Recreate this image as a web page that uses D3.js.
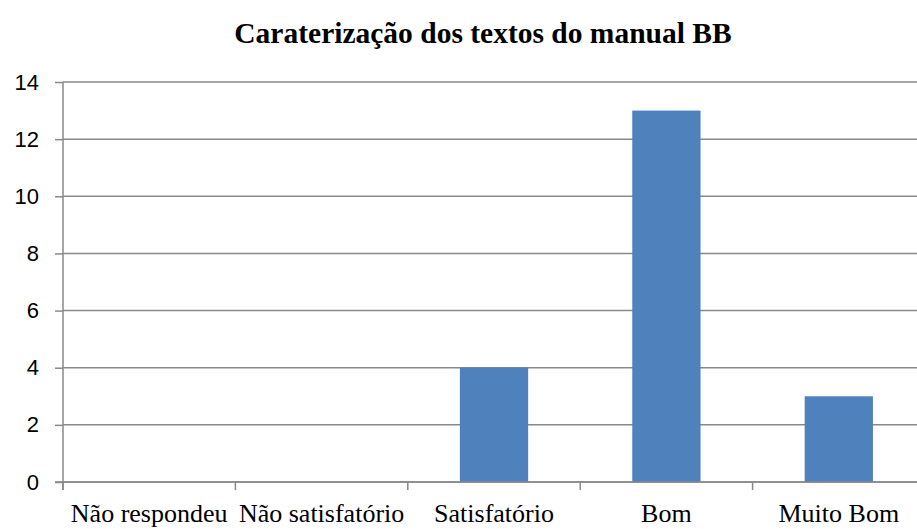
<!DOCTYPE html>
<html>
<head>
<meta charset="utf-8">
<script src="https://cdn.jsdelivr.net/npm/d3@7"></script>
<style>
  html, body { margin: 0; padding: 0; background: #fff; }
  svg { display: block; }
</style>
</head>
<body>
<svg id="chart" width="917" height="529"></svg>
<script>
// Categories and counts
const categories = ["Não respondeu", "Não satisfatório", "Satisfatório", "Bom", "Muito Bom"];
const values = [0, 0, 4, 13, 3];
const yTicks = [0, 2, 4, 6, 8, 10, 12, 14];
const title = "Caraterização dos textos do manual BB";

const svg = d3.select("#chart");
const W = 917, H = 529;
const plot = { left: 63, right: 925, top: 82, bottom: 482 };

const y = d3.scaleLinear().domain([0, 14]).range([plot.bottom, plot.top]);

// category slots (for tick boundaries and labels)
const slot = d3.scaleBand().domain(categories).range([plot.left, plot.right]).padding(0);
// bars occupy the middle portion of each slot
const x = d3.scaleBand().domain(categories).range([plot.left, plot.right])
  .paddingInner(0.604).paddingOuter(0.302);

const gridColor = "#898989";

// horizontal gridlines with y ticks
const yAxis = d3.axisLeft(y).tickValues(yTicks).tickSize(8).tickPadding(16).tickFormat(d3.format("d"));
const gy = svg.append("g").attr("transform", `translate(${plot.left},0)`).call(yAxis);
gy.select(".domain").remove();
gy.selectAll(".tick line").attr("stroke", gridColor).attr("stroke-width", 1.5);
gy.selectAll(".tick text")
  .attr("font-family", "'Liberation Sans', Arial, sans-serif")
  .attr("font-size", 22).attr("fill", "#000");

svg.append("g").selectAll("line.grid").data(yTicks).join("line")
  .attr("class", "grid")
  .attr("x1", plot.left).attr("x2", W)
  .attr("y1", d => y(d)).attr("y2", d => y(d))
  .attr("stroke", gridColor).attr("stroke-width", 1.5);

// vertical axis line
svg.append("line")
  .attr("x1", plot.left).attr("x2", plot.left)
  .attr("y1", y(14)).attr("y2", plot.bottom + 8)
  .attr("stroke", gridColor).attr("stroke-width", 1.5);

// bars
svg.append("g").selectAll("rect").data(values).join("rect")
  .attr("x", (d, i) => x(categories[i]))
  .attr("width", x.bandwidth())
  .attr("y", d => y(d))
  .attr("height", d => y(0) - y(d))
  .attr("fill", "#4F81BD");

// x axis ticks at category boundaries
const bounds = categories.map(c => slot(c)).concat([plot.right]);
svg.append("g").selectAll("line.xt").data(bounds).join("line")
  .attr("class", "xt")
  .attr("x1", d => d).attr("x2", d => d)
  .attr("y1", plot.bottom).attr("y2", plot.bottom + 8)
  .attr("stroke", gridColor).attr("stroke-width", 1.5);

// x axis line
svg.append("line")
  .attr("x1", plot.left - 8).attr("x2", W)
  .attr("y1", plot.bottom).attr("y2", plot.bottom)
  .attr("stroke", gridColor).attr("stroke-width", 1.5);

// category labels
svg.append("g").selectAll("text").data(categories).join("text")
  .attr("x", d => slot(d) + slot.bandwidth() / 2)
  .attr("y", 522)
  .attr("text-anchor", "middle")
  .attr("font-family", "'Liberation Serif', 'Times New Roman', serif")
  .attr("font-size", 26)
  .attr("fill", "#000")
  .text(d => d);

// title
svg.append("text")
  .attr("x", 483).attr("y", 43)
  .attr("text-anchor", "middle")
  .attr("font-family", "'Liberation Serif', 'Times New Roman', serif")
  .attr("font-weight", "bold")
  .attr("font-size", 29.5)
  .attr("fill", "#000")
  .text(title);
</script>
</body>
</html>
